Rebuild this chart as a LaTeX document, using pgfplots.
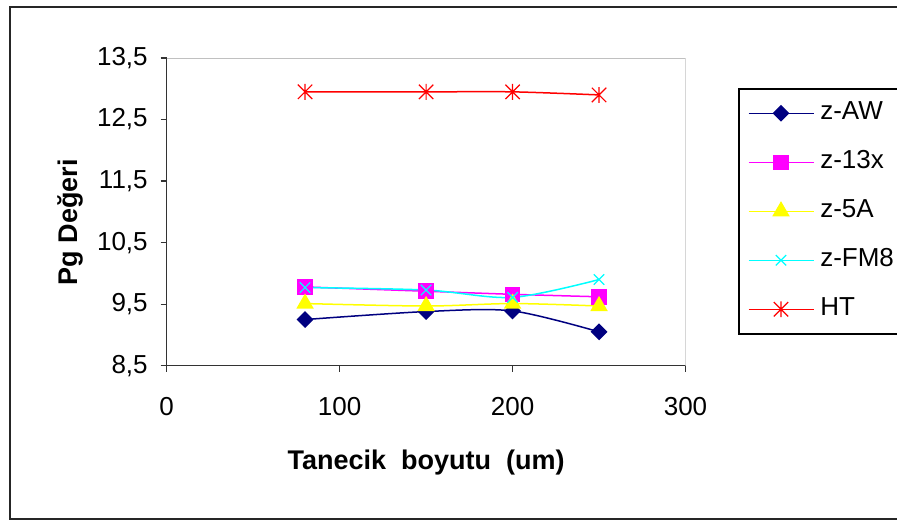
\documentclass[border=0pt]{standalone}
\usepackage{pgfplots}
\pgfplotsset{compat=1.18}
\usepackage{fontspec}
\setmainfont{Liberation Sans}
\definecolor{cNavy}{RGB}{0,0,128}
\definecolor{cMag}{RGB}{255,0,255}
\definecolor{cYel}{RGB}{255,255,0}
\definecolor{cCya}{RGB}{0,255,255}
\definecolor{cRed}{RGB}{255,0,0}
\definecolor{cGrid}{RGB}{192,192,192}
\pgfdeclareplotmark{xstar}{%
  \pgfpathmoveto{\pgfqpoint{-\pgfplotmarksize}{-\pgfplotmarksize}}%
  \pgfpathlineto{\pgfqpoint{\pgfplotmarksize}{\pgfplotmarksize}}%
  \pgfpathmoveto{\pgfqpoint{-\pgfplotmarksize}{\pgfplotmarksize}}%
  \pgfpathlineto{\pgfqpoint{\pgfplotmarksize}{-\pgfplotmarksize}}%
  \pgfpathmoveto{\pgfqpoint{0pt}{-1.1\pgfplotmarksize}}%
  \pgfpathlineto{\pgfqpoint{0pt}{1.1\pgfplotmarksize}}%
  \pgfusepathqstroke}
\begin{document}
\begin{tikzpicture}
\useasboundingbox (0bp,0bp) rectangle (448.5bp,-261.5bp);
\draw[line width=1bp,black!85] (452bp,-3.5bp) -- (5bp,-3.5bp) -- (5bp,-259.5bp) -- (452bp,-259.5bp);
\begin{axis}[
  at={(83.35bp,-182.85bp)}, anchor=south west,
  scale only axis, width=259.4bp, height=153.85bp,
  xmin=0, xmax=300, ymin=8.5, ymax=13.5,
  xtick={0,100,200,300},
  ytick={8.5,9.5,10.5,11.5,12.5,13.5},
  axis x line*=bottom, axis y line*=left,
  axis line style={-, line width=0.6bp, black!80},
  tick style={line width=0.6bp, black!80},
  tick align=outside, major tick length=3bp,
  /pgf/number format/assume math mode=true,
  /pgf/number format/use comma,
  /pgf/number format/fixed,
  yticklabel style={/pgf/number format/fixed zerofill,/pgf/number format/precision=1},
  ticklabel style={font=\fontsize{13bp}{15bp}\selectfont},
  xticklabel style={yshift=-9.5bp},
  yticklabel style={xshift=-3bp},
  xlabel={Tanecik\ \ boyutu\ \ (um)},
  ylabel={Pg Değeri},
  every axis x label/.style={at={(axis description cs:0.5,-0.315)}, anchor=center, font=\bfseries\fontsize{13.5bp}{16bp}\selectfont},
  every axis y label/.style={at={(axis description cs:-0.1864,0.467)}, anchor=center, rotate=90, font=\bfseries\fontsize{13.5bp}{16bp}\selectfont},
  legend style={at={(1.1012,0.9025)}, anchor=north west, draw=black, line width=0.75bp,
    font=\fontsize{13bp}{15bp}\selectfont, inner xsep=4.5bp, inner ysep=6bp, row sep=12bp,
    nodes={inner sep=0pt, text height=9.5bp, text depth=3bp}},
  legend cell align=left,
  legend image code/.code={\draw[mark repeat=2,mark phase=2,#1] plot coordinates {(0bp,0bp) (16.25bp,0bp) (32.5bp,0bp)}; \path (35.5bp,0bp);},
  every axis plot/.append style={line width=0.75bp, smooth, tension=0.5},
]
\addplot[color=cNavy, mark=square*, mark size=2.6bp, mark options={rotate=45, solid}] coordinates {(80,9.25) (150,9.38) (200,9.39) (250,9.05)};
\addlegendentry{z-AW}
\addplot[color=cMag, mark=square*, mark size=3.5bp] coordinates {(80,9.78) (150,9.71) (200,9.66) (250,9.62)};
\addlegendentry{z-13x}
\addplot[color=cYel, mark=triangle*, mark size=4.3bp] coordinates {(80,9.51) (150,9.47) (200,9.51) (250,9.47)};
\addlegendentry{z-5A}
\addplot[color=cCya, mark=x, mark size=3.7bp, mark options={line width=0.6bp}] coordinates {(80,9.77) (150,9.73) (200,9.61) (250,9.90)};
\addlegendentry{z-FM8}
\addplot[color=cRed, mark=xstar, mark size=3.6bp, mark options={line width=0.6bp}] coordinates {(80,12.95) (150,12.95) (200,12.95) (250,12.90)};
\addlegendentry{HT}
\draw[cGrid, line width=0.6bp] (rel axis cs:0,1) -- (rel axis cs:1,1) -- (rel axis cs:1,0);
\end{axis}
\end{tikzpicture}
\end{document}
